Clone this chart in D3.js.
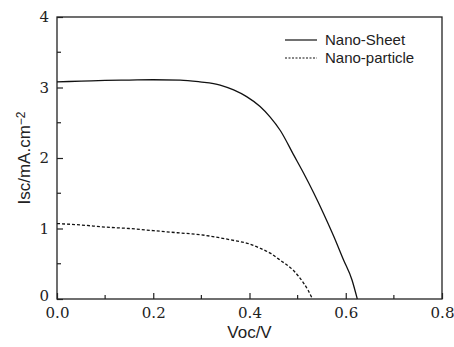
<!DOCTYPE html>
<html>
<head>
<meta charset="utf-8">
<script src="https://cdn.jsdelivr.net/npm/d3@7"></script>
<style>
  body { margin: 0; background: #fff; }
  text.num { font-family: "DejaVu Serif", "Liberation Serif", serif; font-size: 15px; fill: #222; }
  .title { font-family: "Liberation Sans", Arial, sans-serif; font-size: 17px; fill: #222; }
  .legend text { font-family: "Liberation Sans", Arial, sans-serif; font-size: 15px; fill: #222; }
</style>
</head>
<body>
<script>
// Data
var sheetV = [0, 0.05, 0.1, 0.15, 0.2, 0.256, 0.297, 0.339, 0.367, 0.394, 0.422, 0.443, 0.464, 0.492, 0.512, 0.533, 0.554, 0.575, 0.595, 0.613, 0.624];
var sheetI = [3.08, 3.09, 3.10, 3.105, 3.11, 3.106, 3.08, 3.035, 2.965, 2.87, 2.73, 2.58, 2.39, 2.04, 1.79, 1.51, 1.21, 0.89, 0.56, 0.27, 0];
var partV = [0, 0.05, 0.1, 0.15, 0.2, 0.25, 0.3, 0.36, 0.4, 0.422, 0.443, 0.464, 0.492, 0.512, 0.522, 0.531];
var partI = [1.07, 1.05, 1.02, 1.00, 0.97, 0.94, 0.91, 0.84, 0.78, 0.72, 0.65, 0.55, 0.40, 0.23, 0.12, 0];
var xTicks = [0, 0.2, 0.4, 0.6, 0.8];
var yTicks = [0, 1, 2, 3, 4];
var seriesNames = ["Nano-Sheet", "Nano-particle"];

// Settings
var w = 454, h = 347;
var pLeft = 57, pRight = 442, pTop = 17, pBottom = 299;

var svg = d3.select("body").append("svg")
  .attr("width", w)
  .attr("height", h);

var xScale = d3.scaleLinear().domain([0, 0.8]).range([pLeft, pRight]);
var yScale = d3.scaleLinear().domain([0, 4]).range([pBottom, pTop]);

// frame
svg.append("rect")
  .attr("x", pLeft).attr("y", pTop)
  .attr("width", pRight - pLeft).attr("height", pBottom - pTop)
  .attr("fill", "none").attr("stroke", "#222").attr("stroke-width", 1.3);

// minor ticks
var xMinor = [0.1, 0.3, 0.5, 0.7];
var yMinor = [0.5, 1.5, 2.5, 3.5];
svg.append("g").selectAll("line").data(xMinor).enter().append("line")
  .attr("x1", function(d) { return xScale(d); }).attr("x2", function(d) { return xScale(d); })
  .attr("y1", pBottom).attr("y2", pBottom - 4)
  .attr("stroke", "#222").attr("stroke-width", 1.2);
svg.append("g").selectAll("line").data(yMinor).enter().append("line")
  .attr("x1", pLeft).attr("x2", pLeft + 4)
  .attr("y1", function(d) { return yScale(d); }).attr("y2", function(d) { return yScale(d); })
  .attr("stroke", "#222").attr("stroke-width", 1.2);

// axes (ticks inward)
var xAxis = d3.axisBottom(xScale).tickValues(xTicks).tickFormat(d3.format(".1f")).tickSizeInner(-6).tickSizeOuter(0).tickPadding(9);
var yAxis = d3.axisLeft(yScale).tickValues(yTicks).tickFormat(d3.format("d")).tickSizeInner(-6).tickSizeOuter(0).tickPadding(8);

var gx = svg.append("g").attr("transform", "translate(0," + pBottom + ")").call(xAxis);
var gy = svg.append("g").attr("transform", "translate(" + pLeft + ",0)").call(yAxis);
[gx, gy].forEach(function(g) {
  g.attr("font-family", null).attr("font-size", null);
  g.select(".domain").remove();
  g.selectAll(".tick line").attr("stroke", "#222").attr("stroke-width", 1.2);
  g.selectAll(".tick text").attr("class", "num");
});
gx.selectAll(".tick text").attr("y", 8).attr("dy", "0.71em");
// lift the y "0" a touch so it sits just above the "0.0"
gy.selectAll(".tick text").filter(function(d) { return d === 0; }).attr("y", -3);

// curves
var line = d3.line()
  .x(function(d) { return xScale(d[0]); })
  .y(function(d) { return yScale(d[1]); })
  .curve(d3.curveMonotoneX);

var sheet = d3.zip(sheetV, sheetI);
var part = d3.zip(partV, partI);

svg.append("path").datum(sheet).attr("d", line)
  .attr("fill", "none").attr("stroke", "#111").attr("stroke-width", 1.3);
svg.append("path").datum(part).attr("d", line)
  .attr("fill", "none").attr("stroke", "#111").attr("stroke-width", 1.3)
  .attr("stroke-dasharray", "3,2");

// legend
var legend = svg.append("g").attr("class", "legend");
seriesNames.forEach(function(name, i) {
  var y = 40 + i * 18;
  legend.append("line")
    .attr("x1", 285).attr("x2", 317).attr("y1", y).attr("y2", y)
    .attr("stroke", "#111").attr("stroke-width", 1.2)
    .attr("stroke-dasharray", i === 1 ? "2,1.5" : null);
  legend.append("text")
    .attr("x", 325).attr("y", y).attr("dy", "0.35em")
    .text(name);
});

// axis titles
svg.append("text").attr("class", "title")
  .attr("x", (pLeft + pRight) / 2).attr("y", 338)
  .attr("text-anchor", "middle")
  .text("Voc/V");

var yt = svg.append("text").attr("class", "title")
  .attr("transform", "translate(30," + ((pTop + pBottom) / 2) + ") rotate(-90)")
  .attr("text-anchor", "middle");
yt.append("tspan").text("Isc/mA.cm");
yt.append("tspan").attr("dy", "-0.45em").attr("font-size", "12px").text("\u22122");
</script>
</body>
</html>
